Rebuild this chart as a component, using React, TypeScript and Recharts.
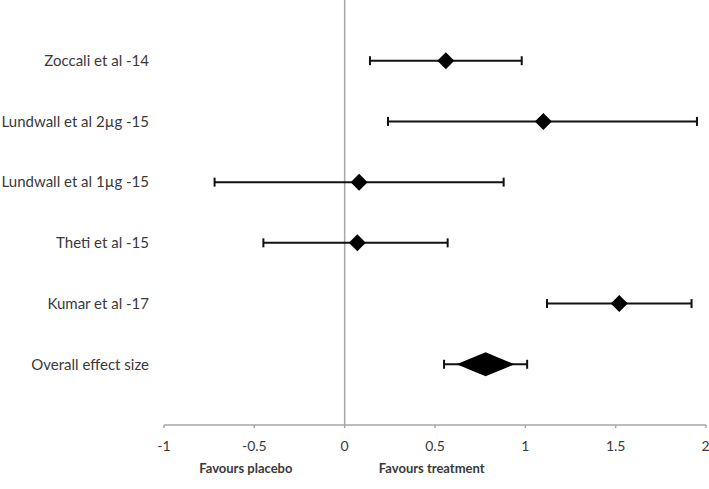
import React from "react";
import { ScatterChart, Scatter, XAxis, YAxis, ErrorBar, ReferenceLine, Label } from "recharts";

const studies = [
  "Zoccali et al -14",
  "Lundwall et al 2µg -15",
  "Lundwall et al 1µg -15",
  "Theti et al -15",
  "Kumar et al -17",
  "Overall effect size",
];
const estimates = [0.56, 1.1, 0.08, 0.07, 1.52, 0.78];
const lowerCI = [0.14, 0.24, -0.72, -0.45, 1.12, 0.55];
const upperCI = [0.98, 1.95, 0.88, 0.57, 1.92, 1.01];
const isOverall = [false, false, false, false, false, true];
const xTicks = [-1, -0.5, 0, 0.5, 1, 1.5, 2];
const favourLabels = ["Favours placebo", "Favours treatment"];

const data = studies.map((name, i) => ({
  name,
  row: i,
  est: estimates[i],
  err: [estimates[i] - lowerCI[i], upperCI[i] - estimates[i]],
  overall: isOverall[i],
}));

const FONT = "Lato, 'Open Sans', sans-serif";
const TEXT = "#3a3a3a";
const AXIS = "#a6a6a6";

const DiamondShape = (props: any) => {
  const { cx, cy, payload } = props;
  if (cx == null || cy == null) return null;
  const hw = payload.overall ? 29 : 8.5;
  const hh = payload.overall ? 12 : 8.5;
  const d = `M${cx - hw},${cy} L${cx},${cy - hh} L${cx + hw},${cy} L${cx},${cy + hh} Z`;
  return <path d={d} fill="#000" stroke="none" />;
};

const FavoursContent = (props: any) => {
  const vb = props.viewBox || {};
  const x = vb.x ?? 0;
  const y = vb.y ?? 0;
  const w = vb.width ?? 0;
  const fr = [0.151, 0.494];
  return (
    <g>
      {favourLabels.map((t, i) => (
        <text
          key={t}
          x={x + w * fr[i]}
          y={y + 48}
          textAnchor="middle"
          fontFamily={FONT}
          fontWeight="bold"
          fontSize={13}
          fill={TEXT}
        >
          {t}
        </text>
      ))}
    </g>
  );
};

export default function App() {
  return (
    <div style={{ width: 709, height: 489, background: "#fff" }}>
      <style>{`body{margin:0;background:#fff}`}</style>
      <ScatterChart width={709} height={489} margin={{ top: 0, right: 3, bottom: 4, left: 0 }}>
        <XAxis
          type="number"
          dataKey="est"
          domain={[-1, 2]}
          ticks={xTicks}
          allowDataOverflow
          height={60}
          stroke={AXIS}
          axisLine={{ stroke: AXIS, strokeWidth: 1.5 }}
          tickLine={{ stroke: AXIS, strokeWidth: 1.5 }}
          tickSize={3}
          tickMargin={13}
          tick={{ fill: TEXT, fontSize: 14, fontFamily: FONT }}
        >
          <Label content={FavoursContent} />
        </XAxis>
        <YAxis
          type="number"
          dataKey="row"
          domain={[-1, 6]}
          reversed
          ticks={[0, 1, 2, 3, 4, 5]}
          allowDataOverflow
          width={164}
          axisLine={false}
          tickLine={false}
          tickSize={0}
          tickMargin={15}
          interval={0}
          tickFormatter={(v: number) => studies[v] ?? ""}
          tick={{ fill: TEXT, fontSize: 15, fontFamily: FONT }}
        />
        <ReferenceLine x={0} stroke={AXIS} strokeWidth={1.5} />
        <Scatter data={data} isAnimationActive={false} shape={DiamondShape}>
          <ErrorBar dataKey="err" direction="x" width={4.5} stroke="#111" strokeWidth={2} />
        </Scatter>
      </ScatterChart>
    </div>
  );
}
